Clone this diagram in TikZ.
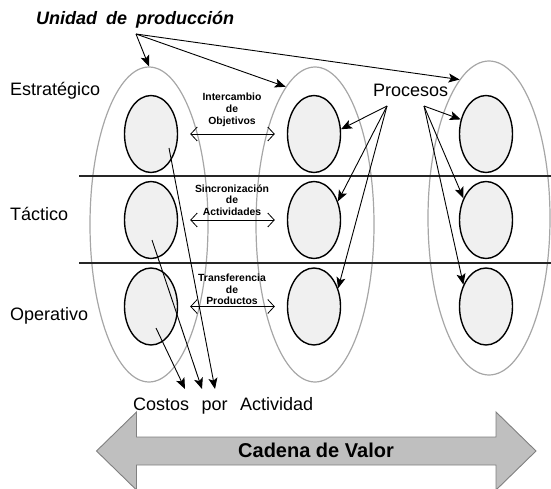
\documentclass[tikz,border=0pt]{standalone}
\usepackage{fontspec}
\setmainfont{Liberation Sans}
\usetikzlibrary{arrows.meta,shapes.geometric}
\begin{document}
\begin{tikzpicture}[x=1pt,y=-1pt,
  bigell/.style={ellipse, draw=gray!70, line width=1.2pt, minimum width=118pt, minimum height=315pt, inner sep=0pt},
  smallell/.style={ellipse, draw=black, line width=1.4pt, fill=gray!12, minimum width=53pt, minimum height=77pt, inner sep=0pt},
  level/.style={line width=1.5pt, draw=black!85},
  conn/.style={line width=0.9pt, -{Stealth[length=11pt,width=9pt,inset=2.5pt]}},
  exch/.style={line width=0.8pt, {Straight Barb[length=6.5pt,width=14pt]}-{Straight Barb[length=6.5pt,width=14pt]}, shorten <=12pt, shorten >=12pt},
  lab/.style={font=\fontsize{18}{21}\selectfont, anchor=base west, inner sep=0pt},
  small/.style={font=\bfseries\fontsize{10.4}{11.7}\selectfont, align=center, inner sep=0pt},
  bigarrow/.style={draw=gray, fill=gray!50, line width=0.9pt, line join=miter}
]
\useasboundingbox (0,0) rectangle (551,489);

% unit ellipses
\node[bigell] (L) at (149,224.5) {};
\node[bigell] (M) at (315,224.5) {};
\node[bigell, minimum width=122pt, minimum height=314pt] (R) at (489,218) {};

% level separators
\draw[level] (79,176) -- (551,176);
\draw[level] (79,263) -- (551,263);

% process ellipses
\foreach \c/\x in {l/151,m/314,r/486}{
  \foreach \r/\y in {1/134,2/220,3/306.5}{
    \node[smallell] (\c\r) at (\x,\y) {};
  }
}

% level labels
\node[lab] (estr) at (10,96) {Estratégico};
\node[lab] (tact) at (10,220) {Táctico};
\node[lab] (oper) at (10,320) {Operativo};

% title
\node[lab, font=\bfseries\itshape\fontsize{18}{21}\selectfont] (title) at (36,25) {Unidad\hspace{9pt}de\hspace{9pt}producción};
\coordinate (u) at (136,34);
\draw[conn] (u) -- (L.north);
\draw[conn] (u) -- (M.102);
\draw[conn] (u) -- (R.102);

% procesos
\node[lab] (proc) at (373,97) {Procesos};
\coordinate (p1) at (387,106);
\coordinate (p2) at (424,106);
\draw[conn] (p1) -- (m1.10);
\draw[conn] (p1) -- (m2.38);
\draw[conn] (p1) -- (m3.37);
\draw[conn] (p2) -- (r1.150);
\draw[conn] (p2) -- (r2.136);
\draw[conn] (p2) -- (r3.136);

% exchanges
\draw[exch] (l1.east) -- (m1.west);
\draw[exch] (l2.east) -- (m2.west);
\draw[exch] (l3.east) -- (m3.west);
\node[small] (t1) at (232,110) {Intercambio\\de\\Objetivos};
\node[small] (t2) at (232,200) {Sincronización\\de\\Actividades};
\node[small] (t3) at (232,289.5) {Transferencia\\de\\Productos};

% costos por actividad
\node[lab] (costos) at (133,410) {Costos\hspace{12.5pt}por\hspace{12.5pt}Actividad};
\coordinate (a0) at (156,328);
\coordinate (b0) at (152,240);
\coordinate (c0) at (169,148);
\coordinate (a1) at (185,389);
\coordinate (b1) at (202,389);
\coordinate (c1) at (215,389);
\draw[conn] (a0) -- (a1);
\draw[conn] (b0) -- (b1);
\draw[conn] (c0) -- (c1);

% value chain
\draw[bigarrow] (96.5,451) -- (136.5,412) -- (136.5,437) -- (496,437) -- (496,412) -- (536,451) -- (496,490) -- (496,465) -- (136.5,465) -- (136.5,490) -- cycle;
\node[font=\bfseries\fontsize{20}{24}\selectfont, anchor=base, inner sep=0pt] (cadena) at (316,457) {Cadena de Valor};
\end{tikzpicture}
\end{document}
